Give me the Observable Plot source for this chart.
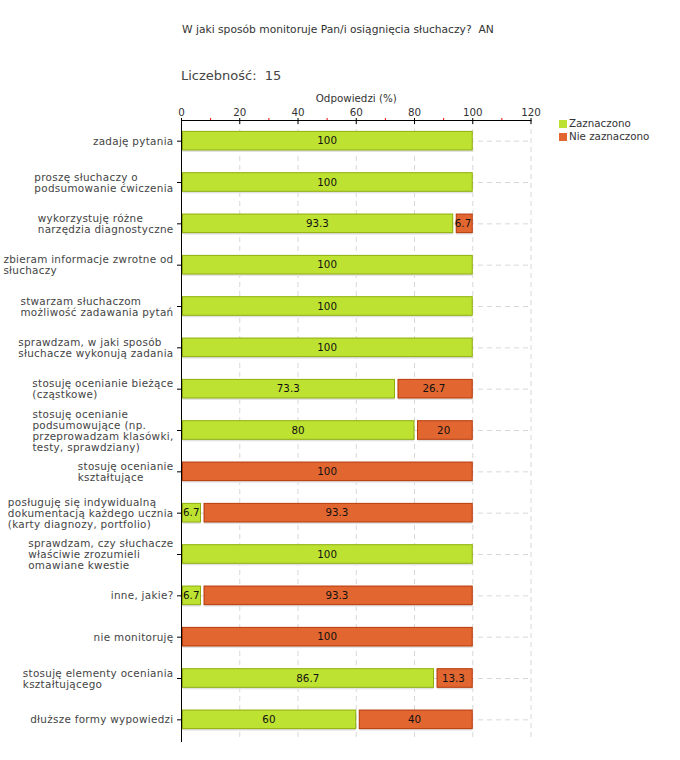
<!DOCTYPE html>
<html><head><meta charset="utf-8">
<script src="https://cdn.jsdelivr.net/npm/d3@7"></script>
<script src="https://cdn.jsdelivr.net/npm/@observablehq/plot@0.6"></script>
<style>
body{margin:0;background:#fff;font-family:"DejaVu Sans",sans-serif;}
#wrap{position:relative;width:680px;height:760px;overflow:hidden;}
#chart{position:absolute;left:0;top:0;}
#title{position:absolute;left:182px;top:23px;font-size:10.7px;color:#333;white-space:pre;}
#count{position:absolute;left:181px;top:68px;font-size:13px;color:#444;white-space:pre;}
#legend{position:absolute;left:560px;top:117px;font-size:10.3px;color:#333;line-height:13px;}
#legend .sw{display:inline-block;width:6px;height:6px;margin-right:3px;vertical-align:0px;}
</style>
</head><body>
<div id="wrap">
  <div id="chart"></div>
  <div id="title"></div>
  <div id="count"></div>
  <div id="legend"></div>
</div>
<script>
const titleText = "W jaki sposób monitoruje Pan/i osiągnięcia słuchaczy?  AN";
const countText = "Liczebność:  15";
const axisLabel = "Odpowiedzi (%)";
const seriesNames = ["Zaznaczono", "Nie zaznaczono"];
const seriesColors = ["#bee232", "#e26630"];
const seriesStrokes = ["#8eae0c", "#b53a0a"];

const categories = [
  "zadaję pytania",
  "proszę słuchaczy o\npodsumowanie ćwiczenia",
  "wykorzystuję różne\nnarzędzia diagnostyczne",
  "zbieram informacje zwrotne od\nsłuchaczy",
  "stwarzam słuchaczom\nmożliwość zadawania pytań",
  "sprawdzam, w jaki sposób\nsłuchacze wykonują zadania",
  "stosuję ocenianie bieżące\n(cząstkowe)",
  "stosuję ocenianie\npodsumowujące (np.\nprzeprowadzam klasówki,\ntesty, sprawdziany)",
  "stosuję ocenianie\nkształtujące",
  "posługuję się indywidualną\ndokumentacją każdego ucznia\n(karty diagnozy, portfolio)",
  "sprawdzam, czy słuchacze\nwłaściwie zrozumieli\nomawiane kwestie",
  "inne, jakie?",
  "nie monitoruję",
  "stosuję elementy oceniania\nkształtującego",
  "dłuższe formy wypowiedzi"
];
const zaznaczono    = [100, 100, 93.3, 100, 100, 100, 73.3, 80, 0, 6.7, 100, 6.7, 0, 86.7, 60];
const nieZaznaczono = [0, 0, 6.7, 0, 0, 0, 26.7, 20, 100, 93.3, 0, 93.3, 100, 13.3, 40];
const xTicks = [0, 20, 40, 60, 80, 100, 120];
const minorTicks = [10, 30, 50, 70, 90, 110];

const rows = categories.map((c, i) => ({cat: c, z: zaznaczono[i], n: nieZaznaczono[i]}));
const greenRows = rows.filter(d => d.z > 0);
const orangeAfter = rows.filter(d => d.n > 0 && d.z > 0);
const orangeAlone = rows.filter(d => d.n > 0 && d.z === 0);

document.getElementById("title").textContent = titleText;
document.getElementById("count").textContent = countText;
document.getElementById("legend").innerHTML = seriesNames.map((s, i) =>
  `<div><span class="sw" style="background:${seriesColors[i]};outline:1px solid ${seriesColors[i]}"></span>${s}</div>`).join("");

const shadow = {fill: "#e2e2e2", dy: 2};
const chart = Plot.plot({
  width: 680, height: 760,
  marginLeft: 181, marginRight: 149.5, marginTop: 120, marginBottom: 20,
  style: {fontFamily: "DejaVu Sans", fontSize: "10px", color: "#333", background: "transparent"},
  x: {domain: [0, 120]},
  y: {domain: categories, paddingInner: 0.55, paddingOuter: 0.275, round: false},
  marks: [
    Plot.gridX({ticks: xTicks.slice(1), stroke: "#d8d8d8", strokeOpacity: 1, strokeDasharray: "5,4"}),
    Plot.gridY({stroke: "#d8d8d8", strokeOpacity: 1, strokeDasharray: "5,4"}),
    // shadows
    Plot.barX(greenRows, {y: "cat", x1: 0, x2: "z", insetLeft: 1.5, ...shadow}),
    Plot.barX(orangeAfter, {y: "cat", x1: "z", x2: 100, insetLeft: 3.5, ...shadow}),
    Plot.barX(orangeAlone, {y: "cat", x1: 0, x2: 100, insetLeft: 1.5, ...shadow}),
    // bars
    Plot.barX(greenRows, {y: "cat", x1: 0, x2: "z", insetLeft: 1.5, fill: seriesColors[0], stroke: seriesStrokes[0]}),
    Plot.barX(orangeAfter, {y: "cat", x1: "z", x2: 100, insetLeft: 3.5, fill: seriesColors[1], stroke: seriesStrokes[1]}),
    Plot.barX(orangeAlone, {y: "cat", x1: 0, x2: 100, insetLeft: 1.5, fill: seriesColors[1], stroke: seriesStrokes[1]}),
    // values
    Plot.text(greenRows, {y: "cat", x: d => d.z / 2, text: d => String(d.z), fill: "#111", fontSize: 10.3}),
    Plot.text(rows.filter(d => d.n > 0), {y: "cat", x: d => d.z + d.n / 2, text: d => String(d.n), fill: "#111", fontSize: 10.3}),
    // axes
    Plot.axisX({anchor: "top", ticks: minorTicks, tickSize: 3, stroke: "red", tickFormat: () => "", label: null}),
    Plot.axisX({anchor: "top", ticks: xTicks, tickSize: 6, dy: 3, stroke: "black", tickFormat: () => "", label: null}),
    Plot.axisX({anchor: "top", ticks: xTicks, tickSize: 0, tickPadding: 5, fill: "#333", fontSize: 10.3,
      label: axisLabel, labelAnchor: "center", labelOffset: 26, labelArrow: "none"}),
    Plot.axisY({anchor: "left", tickSize: 4, tickFormat: () => "", label: null, stroke: "black"}),
    Plot.frame({anchor: "top", stroke: "black"}),
    Plot.ruleX([0], {stroke: "black", insetBottom: -2}),
    // category labels
    Plot.text(rows, {y: "cat", text: "cat", frameAnchor: "left", textAnchor: "start", dx: -8,
      lineHeight: 1.06, fill: "#444", fontSize: 10.4, ariaDescription: "catlabels"})
  ]
});
document.getElementById("chart").appendChild(chart);
chart.querySelectorAll('g[aria-description="catlabels"] text').forEach(t => {
  t.style.letterSpacing = "0.3px";
  const w = t.getBBox().width;
  t.setAttribute("transform", (t.getAttribute("transform") || "") + ` translate(${-w},0)`);
});
</script>
</body></html>
